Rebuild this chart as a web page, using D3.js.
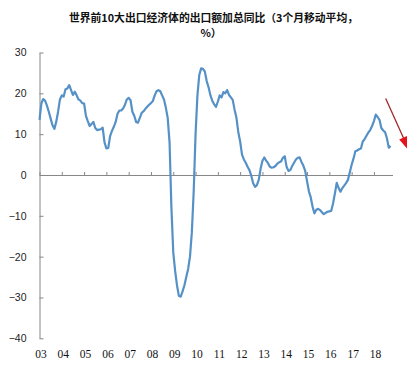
<!DOCTYPE html>
<html>
<head>
<meta charset="utf-8">
<script src="https://cdn.jsdelivr.net/npm/d3@7"></script>
<style>
  html, body { margin: 0; padding: 0; background: #fff; }
  svg { display: block; }
</style>
</head>
<body>
<svg id="chart" width="407" height="387"></svg>
<script>
// ---- data (monthly, Jan 2003 .. Oct 2018), % yoy, 3-month moving average ----
const startYear = 2003;
const yearLabels = ["03","04","05","06","07","08","09","10","11","12","13","14","15","16","17","18"];
const yTicks = [-40, -30, -20, -10, 0, 10, 20, 30];
const values = [
  // 2003
  13.5, 17.5, 18.6, 18.2, 17.0, 15.5, 13.8, 12.2, 11.3, 13.0, 15.5, 18.5,
  // 2004
  19.5, 19.2, 21.0, 21.2, 22.0, 20.8, 19.6, 20.4, 19.5, 18.5, 18.2, 17.6,
  // 2005
  17.5, 14.5, 13.2, 12.0, 12.5, 13.0, 11.5, 11.0, 11.1, 11.2, 11.6, 8.0,
  // 2006
  6.5, 6.6, 9.5, 10.8, 11.8, 13.0, 15.0, 15.8, 15.8, 16.3, 17.2, 18.5,
  // 2007
  18.9, 18.3, 15.5, 14.5, 13.0, 12.8, 14.0, 15.2, 15.6, 16.2, 16.7, 17.2,
  // 2008
  17.6, 18.1, 19.5, 20.5, 20.8, 20.5, 19.5, 18.5, 16.5, 14.0, 8.0, -8.0,
  // 2009
  -19.0, -23.5, -27.0, -29.6, -29.8, -28.5, -27.0, -25.0, -23.0, -20.0, -14.0, -4.0,
  // 2010
  10.0, 19.5, 24.5, 26.1, 26.0, 25.3, 23.0, 21.5, 19.5, 18.2, 17.3, 16.7,
  // 2011
  18.0, 19.5, 19.0, 20.3, 20.0, 20.8, 19.6, 19.0, 18.4, 16.0, 14.0, 10.5,
  // 2012
  8.2, 5.0, 3.8, 3.0, 2.0, 1.2, -0.2, -2.0, -2.9, -2.5, -1.2, 1.5,
  // 2013
  3.5, 4.3, 3.5, 2.9, 2.0, 1.8, 1.9, 2.2, 2.8, 3.1, 3.3, 4.2,
  // 2014
  4.6, 2.0, 1.0, 1.2, 2.2, 3.0, 3.8, 4.2, 4.3, 3.2, 2.3, 1.0,
  // 2015
  -1.5, -4.0, -5.5, -7.8, -9.4, -8.5, -8.3, -8.6, -9.1, -9.6, -9.3, -9.0,
  // 2016
  -8.9, -8.8, -7.0, -4.5, -1.9, -3.2, -4.1, -3.2, -2.6, -2.0, -1.2, 0.6,
  // 2017
  2.5, 4.0, 5.8, 6.0, 6.3, 6.5, 8.2, 8.8, 9.6, 10.4, 11.0, 12.0,
  // 2018
  13.2, 14.8, 14.2, 13.5, 11.5, 10.9, 10.5, 9.0, 6.7, 7.1
];
const titleLines = ["世界前10大出口经济体的出口额加总同比（3个月移动平均，", "%）"];

// ---- drawing ----
const svg = d3.select("#chart");
const axisColor = "#868686";

const x = d3.scaleLinear().domain([0, 190]).range([39.5, 392.5]);
const y = d3.scaleLinear().domain([-40, 30]).range([338.3, 52.5]);

// title
svg.append("g")
  .selectAll("text")
  .data(titleLines)
  .join("text")
  .attr("x", (d, i) => i === 0 ? 213.5 : 211)
  .attr("y", (d, i) => 22 + i * 14.5)
  .attr("text-anchor", "middle")
  .attr("font-family", "'Noto Sans CJK SC', sans-serif")
  .attr("font-weight", "bold")
  .attr("font-size", "10.8px")
  .attr("fill", "#111")
  .text(d => d);

// y axis
const yAxis = d3.axisLeft(y)
  .tickValues(yTicks)
  .tickSizeInner(-4)
  .tickSizeOuter(0)
  .tickPadding(13)
  .tickFormat(d3.format("d"));
const gy = svg.append("g")
  .attr("transform", `translate(${x(0)},0)`)
  .call(yAxis);
gy.select(".domain").attr("stroke", axisColor);
gy.selectAll(".tick line").attr("stroke", axisColor);
gy.selectAll(".tick text")
  .attr("font-family", "'Liberation Sans', Arial, sans-serif")
  .attr("font-size", "10.5px")
  .attr("fill", "#222");

// x axis at zero
const yearTickVals = yearLabels.map((d, i) => i * 12);
const xAxis = d3.axisBottom(x)
  .tickValues(yearTickVals)
  .tickSizeInner(-3)
  .tickSizeOuter(0)
  .tickFormat("");
const gx = svg.append("g")
  .attr("transform", `translate(0,${y(0)})`)
  .call(xAxis);
gx.select(".domain").attr("stroke", axisColor);
gx.selectAll(".tick line").attr("stroke", axisColor);

// x labels at bottom
svg.append("g")
  .selectAll("text")
  .data(yearLabels)
  .join("text")
  .attr("x", (d, i) => x(i * 12) + 1.5)
  .attr("y", 358)
  .attr("text-anchor", "middle")
  .attr("font-family", "'Liberation Serif', 'Times New Roman', serif")
  .attr("font-size", "11.5px")
  .attr("fill", "#111")
  .text(d => d);

// line
const line = d3.line()
  .x((d, i) => x(i))
  .y(d => y(d));
svg.append("path")
  .datum(values)
  .attr("fill", "none")
  .attr("stroke", "#5591c6")
  .attr("stroke-width", 2.2)
  .attr("stroke-linejoin", "round")
  .attr("d", line);

// red annotation arrow
svg.append("line")
  .attr("x1", 385.7).attr("y1", 98.5)
  .attr("x2", 403.5).attr("y2", 138)
  .attr("stroke", "#a0282a")
  .attr("stroke-width", 1.3);
svg.append("path")
  .attr("d", "M399.2,139.5 L408.6,135.2 L411,153 Z")
  .attr("fill", "#e3141b");
</script>
</body>
</html>
